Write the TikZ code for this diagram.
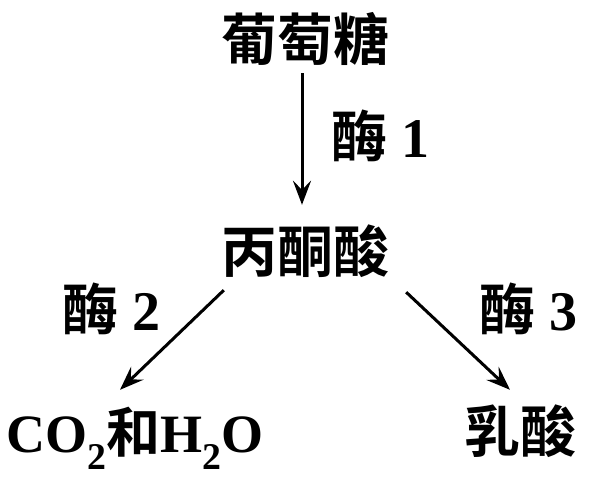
\documentclass[tikz,border=0pt]{standalone}
\usepackage{fontspec}
\setmainfont{Liberation Serif}
\newfontfamily\cjk{Noto Sans CJK SC}[BoldFont={* Bold}]
\usetikzlibrary{arrows.meta}
\begin{document}
\begin{tikzpicture}[x=1pt,y=-1pt,
  lbl/.style={inner sep=0pt, font=\fontsize{56}{60}\selectfont\bfseries, text height=49pt, text depth=7pt},
  arr/.style={line width=3pt, -{Stealth[length=24pt,width=18pt,inset=9pt]}}]
\useasboundingbox (0,0) rectangle (590,489);
\node[lbl] (glu) at (305,40) {\cjk 葡萄糖};
\node[lbl] (pyr) at (305,252) {\cjk 丙酮酸};
\node[lbl, font=\fontsize{54}{58}\selectfont\bfseries] (co2) at (135,432) {CO\textsubscript{2}{\cjk 和}H\textsubscript{2}O};
\node[lbl] (lac) at (520,432) {\cjk 乳酸};
\node[lbl] (e1) at (380,137) {{\cjk 酶} 1};
\node[lbl] (e2) at (112,310) {{\cjk 酶} 2};
\node[lbl] (e3) at (528,310) {{\cjk 酶} 3};
\draw[arr] ([shift={(-3,5)}]glu.south) -- ([shift={(-3,-19)}]pyr.north);
\draw[arr] ([shift={(3,10)}]pyr.south west) -- ([shift={(-15,-14)}]co2.north);
\draw[arr] ([shift={(17,12)}]pyr.south east) -- ([shift={(-10,-14)}]lac.north);
\end{tikzpicture}
\end{document}
